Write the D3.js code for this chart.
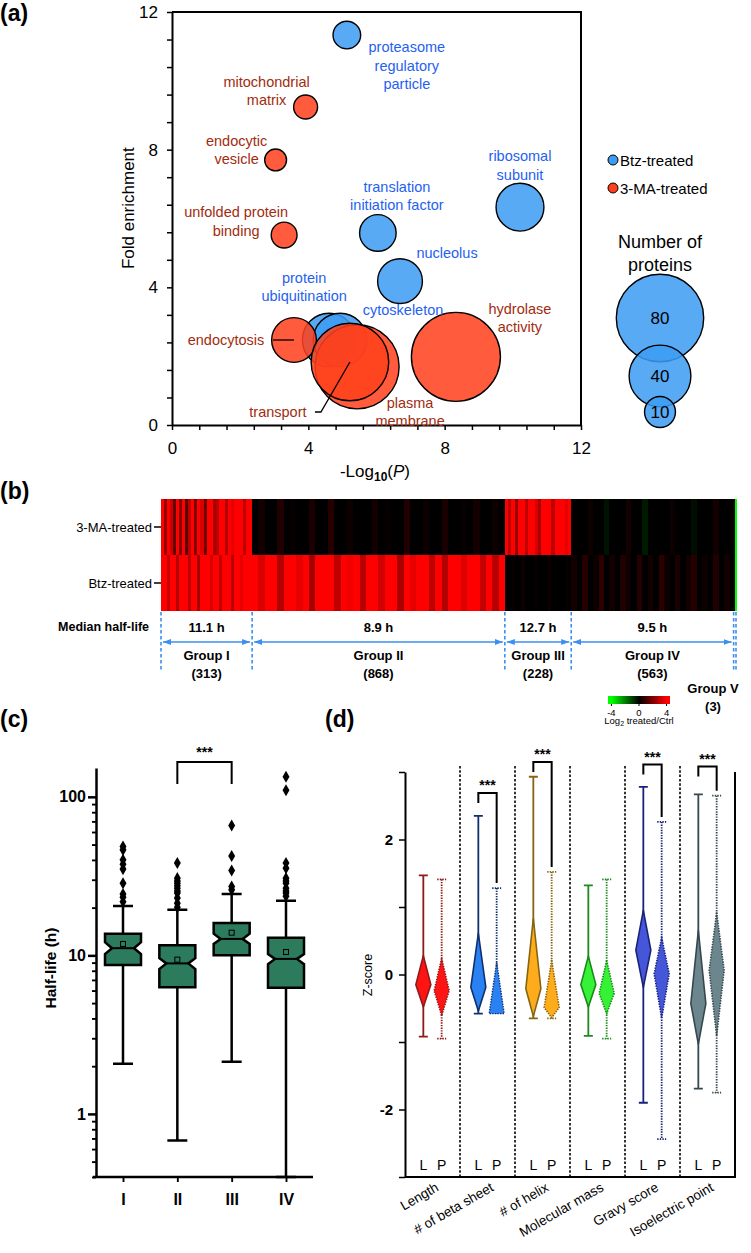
<!DOCTYPE html>
<html>
<head>
<meta charset="utf-8">
<script src="https://cdn.jsdelivr.net/npm/d3@7"></script>
<style>
body { margin: 0; background: #fff; }
svg { display: block; font-family: "Liberation Sans", Arial, Helvetica, sans-serif; }
</style>
</head>
<body>
<script>
// ---------- data: panel (a) GO terms ----------
const termNames = ["proteasome regulatory particle", "ribosomal subunit", "translation initiation factor",
  "nucleolus", "protein ubiquitination", "cytoskeleton", "mitochondrial matrix", "endocytic vesicle",
  "unfolded protein binding", "endocytosis", "hydrolase activity", "plasma membrane", "transport"];
const termGroup = ["Btz", "Btz", "Btz", "Btz", "Btz", "Btz", "3-MA", "3-MA", "3-MA", "3-MA", "3-MA", "3-MA", "3-MA"];
const termLogP = [5.13, 10.21, 6.04, 6.69, 4.61, 4.93, 3.92, 3.04, 3.29, 3.58, 8.33, 5.43, 5.22];
const termFold = [11.33, 6.33, 5.58, 4.18, 2.47, 2.47, 9.24, 7.70, 5.52, 2.47, 1.98, 1.69, 1.83];
const termCount = [8, 24, 14, 21, 30, 30, 6, 5, 7, 21, 83, 74, 63];
const legendCounts = [80, 40, 10];

// ---------- data: panel (b) heatmap ----------
const hmGroups = ["Group I", "Group II", "Group III", "Group IV", "Group V"];
const hmCounts = [313, 868, 228, 563, 3];
const hmMedian = ["11.1 h", "8.9 h", "12.7 h", "9.5 h"];
const hmRows = ["3-MA-treated", "Btz-treated"];
const hm3MA = [
  [4,2.4,4,3.2,1.6,4,2.2,4,1.4,3,4,2,4,3.4,1.8,4,4,2.6,3,4,4,2.8,4,3.6,4,4,4,3,4,4],
  [0,0.3,0,0,0.5,0,0.1,0,0,0.4,0,0,0.6,0,0,0.2,0,0,0,0.3,0,0.1,0,0,0.5,0,0,0.2,0,0,0.4,0,0,0.1,0,0.3,0,0,0.2,0],
  [4,3,4,2.4,4,4,3,4,4,3.4,2.6,4,4,4,3,4,4,4,3.6,4],
  [0,0,0,0.2,0,0,-0.3,0,0,0,0.3,0,0,-0.4,0,0,0,0,0.2,0,0,0,-0.2,0,0,0,0.3,0,0,0.1],
  [-4]
];
const hmBtz = [
  [4,4,3.2,4,4,2.8,4,4,4,3,4,4,2.6,4,4,4,3.4,4,4,3,4,4,4,2.9,4,4,3.6,4,4,4],
  [4,3.4,4,4,2.8,4,4,3.6,4,2.6,4,4,4,3,4,3.8,4,2.9,4,4,3.3,4,4,2.7,4,3.6,4,4,3,4,2.8,4,4,3.5,4,4,3.1,4,2.9,4],
  [0,0,0.1,0,0,0.2,0,0,0,0.1,0,0,0,0.2,0,0,0,0,0.1,0],
  [0.3,0,0.6,0,0.2,0.7,0,0.3,0,0.5,0.2,0,0.6,0,0.3,0,0.7,0.2,0,0.4,0,0.3,0.6,0,0.2,0,0.5,0,0.3,0],
  [-4]
];
const cbTicks = [-4, 0, 4];

// ---------- data: panel (c) half-life boxes ----------
const hlGroups = ["I", "II", "III", "IV"];
const hlQ1 = [8.7, 6.3, 10.0, 6.24];
const hlMedian = [11.1, 8.9, 12.7, 9.5];
const hlQ3 = [13.7, 11.6, 16.0, 12.9];
const hlNotchLo = [10.2, 8.2, 11.8, 8.8];
const hlNotchHi = [12.1, 9.6, 13.7, 10.2];
const hlMean = [11.8, 9.4, 13.9, 10.5];
const hlLow = [2.07, 0.68, 2.13, 0.40];
const hlHigh = [20.5, 19.4, 24.4, 22.1];
const hlOutliers = [
  [48.6, 46.3, 40.1, 37.6, 35.0, 28.5, 24.4, 23.3, 21.8],
  [38.2, 30.7, 29.5, 28.5, 27.5, 26.5, 25.5, 24.7, 23.0, 21.3, 20.1],
  [65.9, 42.4, 34.3, 27.2, 25.9],
  [134, 110, 38.2, 35.5, 30.7, 29.5, 28.5, 26.5, 25.5, 24.7, 23.6]
];
const hlTicks = [0.4,0.5,0.6,0.7,0.8,0.9,1,2,3,4,5,6,7,8,9,10,20,30,40,50,60,70,80,90,100];

// ---------- data: panel (d) z-scores ----------
const propNames = ["Length", "# of beta sheet", "# of helix", "Molecular mass", "Gravy score", "Isoelectric point"];
const lMax    = [1.47, 2.35, 2.93, 1.32, 2.78, 2.67];
const lTop    = [0.28, 0.61, 0.83, 0.27, 0.95, 0.65];
const lWide   = [-0.15, -0.19, -0.21, -0.15, 0.36, -0.43];
const lBottom = [-0.48, -0.54, -0.62, -0.48, -0.19, -1.03];
const lMin    = [-0.92, -0.58, -0.65, -0.91, -1.90, -1.69];
const pMax    = [1.41, 1.28, 1.52, 1.41, 2.26, 2.65];
const pTop    = [0.24, 0.18, 0.21, 0.21, 0.55, 0.92];
const pWide   = [-0.24, -0.58, -0.49, -0.28, 0.01, 0.06];
const pBottom = [-0.61, -0.58, -0.64, -0.58, -0.65, -0.91];
const pMin    = [-0.95, -0.58, -0.65, -0.95, -2.44, -1.75];
const bracketTop = [null, 2.69, 3.15, null, 3.11, 3.08];

// ---------- styles ----------
const BLUE = "#3d9cf2", RED = "#ff401c", BLUE_TXT = "#1f62f0", RED_TXT = "#a12c0e";
const ARROW = "#3a8ff0";
const BOX = "#2b7b5c";
const propFill = ["#ff1414", "#2a82f2", "#ffac1c", "#36f236", "#4656d8", "#6b868c"];
const propStroke = ["#8f1a1a", "#10306e", "#86650f", "#1c8a1c", "#1a237a", "#37474f"];

const svg = d3.select("body").append("svg").attr("width", 751).attr("height", 1253);
const defs = svg.append("defs");

function panelLabel(txt, x, y) {
  svg.append("text").attr("x", x).attr("y", y).attr("font-size", 23).attr("font-weight", "bold").text(txt);
}
function styleAxis(g, size, bold, width) {
  g.select(".domain").attr("stroke-width", width);
  g.selectAll(".tick line").attr("stroke-width", width * 0.75);
  g.selectAll(".tick text").attr("font-size", size).attr("font-weight", bold ? "bold" : "normal")
    .attr("fill", "#000").attr("font-family", "Liberation Sans, Arial, sans-serif");
}

// ================= (a) =================
panelLabel("(a)", 0, 21);
const xA = d3.scaleLinear([0, 12], [172, 581]);
const yA = d3.scaleLinear([0, 12], [425, 12]);
const rA = d3.scaleSqrt([0, 80], [0, 43.7]);
const gA = svg.append("g");
const ticksA = d3.range(0, 12.01, 0.8);
const majorA = d => Math.abs(d / 4 - Math.round(d / 4)) < 1e-6;

gA.append("g").attr("transform", "translate(172,0)")
  .call(d3.axisLeft(yA).tickValues(ticksA).tickFormat(d => majorA(d) ? Math.round(d) : "").tickSize(5).tickSizeOuter(0).tickPadding(9))
  .call(g => styleAxis(g, 17, false, 2));
gA.append("g").attr("transform", "translate(0,425)")
  .call(d3.axisBottom(xA).tickValues(ticksA).tickFormat(d => majorA(d) ? Math.round(d) : "").tickSize(5).tickSizeOuter(0).tickPadding(12))
  .call(g => styleAxis(g, 17, false, 2));
gA.append("path").attr("d", `M${xA(0)},${yA(12)}H${xA(12)}V${yA(0)}`).attr("fill", "none").attr("stroke", "#000").attr("stroke-width", 2);

gA.append("text").attr("transform", `translate(128,${yA(6.3)}) rotate(-90)`).attr("text-anchor", "middle")
  .attr("dominant-baseline", "central").attr("font-size", 17).text("Fold enrichment");
const xl = gA.append("text").attr("x", 375).attr("y", 477).attr("text-anchor", "middle").attr("font-size", 17);
xl.append("tspan").text("-Log");
xl.append("tspan").attr("font-size", 12).attr("dy", 4).attr("font-weight", "bold").text("10");
xl.append("tspan").attr("dy", -4).text("(");
xl.append("tspan").attr("font-style", "italic").text("P");
xl.append("tspan").text(")");

// bubbles: Btz first, then 3-MA on top
const drawOrder = [0, 1, 2, 3, 4, 5, 6, 7, 8, 9, 10, 11, 12];
gA.selectAll("circle.term").data(drawOrder).join("circle").attr("class", "term")
  .attr("cx", i => xA(termLogP[i])).attr("cy", i => yA(termFold[i])).attr("r", i => rA(termCount[i]))
  .attr("fill", i => termGroup[i] === "Btz" ? BLUE : RED).attr("fill-opacity", 0.86)
  .attr("stroke", "#000").attr("stroke-width", 1.4);

// label layout (px offsets from bubble centre)
const labelLayout = [
  { lines: ["proteasome", "regulatory", "particle"], dx: 60, dy: 12 },
  { lines: ["ribosomal", "subunit"], dx: 0, dy: -51 },
  { lines: ["translation", "initiation factor"], dx: 19, dy: -46 },
  { lines: ["nucleolus"], dx: 47, dy: -28 },
  { lines: ["protein", "ubiquitination"], dx: -25, dy: -62 },
  { lines: ["cytoskeleton"], dx: 63, dy: -30 },
  { lines: ["mitochondrial", "matrix"], dx: -39, dy: -25 },
  { lines: ["endocytic", "vesicle"], dx: -39, dy: -19 },
  { lines: ["unfolded protein", "binding"], dx: -48, dy: -23 },
  { lines: ["endocytosis"], dx: -68, dy: 0 },
  { lines: ["hydrolase", "activity"], dx: 64, dy: -48 },
  { lines: ["plasma", "membrane"], dx: 53, dy: 36 },
  { lines: ["transport"], dx: -72, dy: 50 }
];
labelLayout.forEach((L, i) => {
  const cx = xA(termLogP[i]), cy = yA(termFold[i]);
  const t = gA.append("text").attr("text-anchor", "middle").attr("font-size", 14.5)
    .attr("fill", termGroup[i] === "Btz" ? BLUE_TXT : RED_TXT);
  L.lines.forEach((s, k) => t.append("tspan").attr("x", cx + L.dx).attr("y", cy + L.dy + k * 18.5)
    .attr("dominant-baseline", "central").text(s));
});
// leader lines
{
  const e = 9, tr = 12;
  const ex = xA(termLogP[e]), ey = yA(termFold[e]);
  gA.append("line").attr("x1", ex - 21).attr("x2", ex).attr("y1", ey).attr("y2", ey).attr("stroke", "#000").attr("stroke-width", 1.3);
  const tx = xA(termLogP[tr]), ty = yA(termFold[tr]);
  gA.append("path").attr("d", `M${tx - 35},${ty + 50}H${tx - 29}L${tx},${ty}`).attr("fill", "none").attr("stroke", "#000").attr("stroke-width", 1.3);
}

// legend
[["Btz-treated", BLUE, 160], ["3-MA-treated", RED, 188]].forEach(([name, c, y]) => {
  gA.append("circle").attr("cx", 613).attr("cy", y).attr("r", 5).attr("fill", c).attr("stroke", "#000").attr("stroke-width", 1);
  gA.append("text").attr("x", 620).attr("y", y).attr("dominant-baseline", "central").attr("font-size", 15).text(name);
});
gA.append("text").attr("x", 660).attr("y", 242).attr("text-anchor", "middle").attr("dominant-baseline", "central").attr("font-size", 18).text("Number of");
gA.append("text").attr("x", 660).attr("y", 265).attr("text-anchor", "middle").attr("dominant-baseline", "central").attr("font-size", 18).text("proteins");
const legendY = [318, 376, 412];
legendCounts.forEach((n, k) => {
  gA.append("circle").attr("cx", 660).attr("cy", legendY[k]).attr("r", rA(n)).attr("fill", BLUE).attr("fill-opacity", 0.86)
    .attr("stroke", "#000").attr("stroke-width", 1.4);
});
legendCounts.forEach((n, k) => {
  gA.append("text").attr("x", 660).attr("y", legendY[k]).attr("text-anchor", "middle").attr("dominant-baseline", "central")
    .attr("font-size", 17).text(n);
});

// ================= (b) =================
panelLabel("(b)", 0, 499);
const total = d3.sum(hmCounts);
const xB = d3.scaleLinear([0, total], [161, 736]);
const yB = d3.scaleBand(hmRows, [499, 611]);
const heatColor = d3.scaleLinear([-4, 0, 4], ["#00ff00", "#000000", "#ff0000"]).clamp(true);
const starts = d3.cumsum([0, ...hmCounts]);
const gB = svg.append("g");
[hm3MA, hmBtz].forEach((rowData, r) => {
  rowData.forEach((vals, gi) => {
    const w = hmCounts[gi] / vals.length;
    vals.forEach((v, k) => {
      const x0 = xB(starts[gi] + k * w), x1 = xB(starts[gi] + (k + 1) * w);
      gB.append("rect").attr("x", x0).attr("y", yB(hmRows[r])).attr("width", x1 - x0 + 0.6)
        .attr("height", yB.bandwidth()).attr("fill", heatColor(v)).attr("shape-rendering", "crispEdges");
    });
  });
});
hmRows.forEach(r => {
  const cy = yB(r) + yB.bandwidth() / 2;
  gB.append("line").attr("x1", 154).attr("x2", 161).attr("y1", cy).attr("y2", cy).attr("stroke", "#000").attr("stroke-width", 1.5);
  gB.append("text").attr("x", 152).attr("y", cy).attr("text-anchor", "end").attr("dominant-baseline", "central").attr("font-size", 13).text(r);
});

// group boundaries + arrows
defs.append("marker").attr("id", "arr").attr("viewBox", "0 0 8 6").attr("refX", 8).attr("refY", 3)
  .attr("markerWidth", 8).attr("markerHeight", 6).attr("markerUnits", "userSpaceOnUse").attr("orient", "auto-start-reverse")
  .append("path").attr("d", "M0,0L8,3L0,6Z").attr("fill", ARROW);
const bounds = starts.map(s => xB(s));
bounds.forEach((bx, k) => {
  const x = k === bounds.length - 2 ? bx - 1.5 : bx;
  gB.append("line").attr("x1", x).attr("x2", x).attr("y1", 612).attr("y2", 670)
    .attr("stroke", ARROW).attr("stroke-width", 1.6).attr("stroke-dasharray", "3.5,2.5");
});
hmMedian.forEach((m, gi) => {
  const a = bounds[gi], b = gi === 3 ? bounds[4] - 1.5 : bounds[gi + 1];
  const cx = (a + b) / 2;
  gB.append("line").attr("x1", a + 2).attr("x2", b - 2).attr("y1", 642).attr("y2", 642)
    .attr("stroke", ARROW).attr("stroke-width", 1.4).attr("marker-start", "url(#arr)").attr("marker-end", "url(#arr)");
  gB.append("text").attr("x", cx).attr("y", 627).attr("text-anchor", "middle").attr("dominant-baseline", "central")
    .attr("font-size", 13).attr("font-weight", "bold").text(m);
  gB.append("text").attr("x", cx).attr("y", 655).attr("text-anchor", "middle").attr("dominant-baseline", "central")
    .attr("font-size", 13).attr("font-weight", "bold").text(hmGroups[gi]);
  gB.append("text").attr("x", cx).attr("y", 673).attr("text-anchor", "middle").attr("dominant-baseline", "central")
    .attr("font-size", 13).attr("font-weight", "bold").text(`(${hmCounts[gi]})`);
});
gB.append("text").attr("x", 713).attr("y", 688).attr("text-anchor", "middle").attr("dominant-baseline", "central")
  .attr("font-size", 13).attr("font-weight", "bold").text(hmGroups[4]);
gB.append("text").attr("x", 713).attr("y", 706).attr("text-anchor", "middle").attr("dominant-baseline", "central")
  .attr("font-size", 13).attr("font-weight", "bold").text(`(${hmCounts[4]})`);
gB.append("text").attr("x", 149).attr("y", 627).attr("text-anchor", "end").attr("dominant-baseline", "central")
  .attr("font-size", 12.5).attr("font-weight", "bold").text("Median half-life");

// colour bar
const xCb = d3.scaleLinear([-4.5, 4.5], [608, 670]);
const grad = defs.append("linearGradient").attr("id", "cb");
[-4.5, -4, 0, 4, 4.5].forEach(v => grad.append("stop").attr("offset", (xCb(v) - 608) / 62).attr("stop-color", heatColor(v)));
gB.append("rect").attr("x", 608).attr("y", 696).attr("width", 62).attr("height", 8).attr("fill", "url(#cb)");
cbTicks.forEach(v => {
  gB.append("line").attr("x1", xCb(v)).attr("x2", xCb(v)).attr("y1", 704).attr("y2", 706).attr("stroke", "#000");
  gB.append("text").attr("x", xCb(v)).attr("y", 712).attr("text-anchor", "middle").attr("dominant-baseline", "central")
    .attr("font-size", 9.5).text(v);
});
const cbl = gB.append("text").attr("x", 639).attr("y", 724).attr("text-anchor", "middle").attr("font-size", 9.5);
cbl.append("tspan").text("Log");
cbl.append("tspan").attr("font-size", 7).attr("dy", 2).text("2");
cbl.append("tspan").attr("dy", -2).text(" treated/Ctrl");

// ================= (c) =================
panelLabel("(c)", 0, 727);
const yC = d3.scaleLog([0.4, 152], [1177, 768]);
const xC = d3.scalePoint(hlGroups, [123, 286]);
const gC = svg.append("g");
const majorC = d => [1, 10, 100].includes(d);
gC.append("g").attr("transform", "translate(96,0)")
  .call(d3.axisLeft(yC).tickValues(hlTicks).tickFormat(d => majorC(d) ? d : "").tickSize(4).tickSizeOuter(0).tickPadding(6))
  .call(g => {
    styleAxis(g, 16, true, 2.5);
    g.selectAll(".tick line").filter(d => majorC(d)).attr("x2", -8).attr("stroke-width", 2.5);
    g.selectAll(".tick text").filter(d => majorC(d)).attr("x", -10);
  });
gC.append("g").attr("transform", "translate(0,1177)")
  .call(d3.axisBottom(xC).tickSize(5).tickSizeOuter(0).tickPadding(12))
  .call(g => { styleAxis(g, 16, true, 2.5); g.select(".domain").attr("d", "M93,0H313"); });

gC.append("text").attr("transform", `translate(50,968) rotate(-90)`).attr("text-anchor", "middle").attr("dominant-baseline", "central")
  .attr("font-size", 15.5).attr("font-weight", "bold").text("Half-life (h)");

const bw = 18, notchIn = 7, capW = 10;
hlGroups.forEach((g, i) => {
  const cx = xC(g);
  gC.append("path").attr("d",
    `M${cx},${yC(hlQ3[i])}V${yC(hlHigh[i])}M${cx - capW},${yC(hlHigh[i])}H${cx + capW}` +
    `M${cx},${yC(hlQ1[i])}V${yC(hlLow[i])}M${cx - capW},${yC(hlLow[i])}H${cx + capW}`)
    .attr("stroke", "#000").attr("stroke-width", 2.5).attr("fill", "none");
  const l = cx - bw, r = cx + bw;
  const nh = yC(hlNotchHi[i]), nl = yC(hlNotchLo[i]), md = yC(hlMedian[i]);
  gC.append("path").attr("d",
    `M${l},${yC(hlQ3[i])}H${r}V${nh}L${r - notchIn},${md}L${r},${nl}V${yC(hlQ1[i])}H${l}V${nl}L${l + notchIn},${md}L${l},${nh}Z`)
    .attr("fill", BOX).attr("stroke", "#000").attr("stroke-width", 2.5).attr("stroke-linejoin", "miter");
  gC.append("line").attr("x1", l + notchIn).attr("x2", r - notchIn).attr("y1", md).attr("y2", md).attr("stroke", "#000").attr("stroke-width", 2);
  gC.append("rect").attr("x", cx - 2.5).attr("y", yC(hlMean[i]) - 2.5).attr("width", 5).attr("height", 5)
    .attr("fill", "none").attr("stroke", "#000").attr("stroke-width", 1);
  gC.selectAll(null).data(hlOutliers[i]).join("path")
    .attr("transform", v => `translate(${cx},${yC(v)})`).attr("d", d3.symbol(d3.symbolDiamond, 42)).attr("fill", "#000");
});
{
  const a = xC("II"), b = xC("III");
  gC.append("path").attr("d", `M${a},784V762H${b}V784`).attr("fill", "none").attr("stroke", "#000").attr("stroke-width", 2);
  gC.append("text").attr("x", (a + b) / 2).attr("y", 757).attr("text-anchor", "middle").attr("font-size", 14).attr("font-weight", "bold").text("***");
}

// ================= (d) =================
panelLabel("(d)", 325, 727);
const yD = d3.scaleLinear([-3, 3], [1177, 772]);
const xD = d3.scaleBand(propNames, [405, 735]);
const gD = svg.append("g");
gD.append("g").attr("transform", "translate(405,0)")
  .call(d3.axisLeft(yD).tickValues([-3, -2, -1, 0, 1, 2, 3]).tickFormat(d => [-2, 0, 2].includes(d) ? d : "").tickSize(6).tickSizeOuter(0).tickPadding(6))
  .call(g => styleAxis(g, 15, true, 2));
gD.append("path").attr("d", `M405,1177H735V772`).attr("fill", "none").attr("stroke", "#000").attr("stroke-width", 2);
propNames.slice(1).forEach(p => {
  gD.append("line").attr("x1", xD(p)).attr("x2", xD(p)).attr("y1", 766).attr("y2", 1177)
    .attr("stroke", "#000").attr("stroke-width", 1.6).attr("stroke-dasharray", "2.5,1.8");
});
gD.append("text").attr("transform", `translate(368,975) rotate(-90)`).attr("text-anchor", "middle").attr("dominant-baseline", "central")
  .attr("font-size", 12.5).text("Z-score");

const hw = 7.5, capD = 4.5;
function kite(cx, mx, tp, wd, bt, mn, fill, stroke, dotted) {
  const g = gD.append("g");
  const dash = dotted ? "1.4,1.2" : null;
  g.append("path").attr("d", `M${cx},${yD(mx)}V${yD(mn)}M${cx - capD},${yD(mx)}H${cx + capD}M${cx - capD},${yD(mn)}H${cx + capD}`)
    .attr("stroke", stroke).attr("stroke-width", 1.8).attr("fill", "none").attr("stroke-dasharray", dash);
  g.append("path").attr("d", `M${cx},${yD(tp)}L${cx + hw},${yD(wd)}L${cx},${yD(bt)}L${cx - hw},${yD(wd)}Z`)
    .attr("fill", fill).attr("stroke", stroke).attr("stroke-width", 1.6).attr("stroke-linejoin", "round")
    .attr("stroke-dasharray", dash);
}
function triangle(cx, mx, tp, bt, mn, fill, stroke) {
  const g = gD.append("g");
  g.append("path").attr("d", `M${cx},${yD(mx)}V${yD(mn)}M${cx - capD},${yD(mx)}H${cx + capD}`)
    .attr("stroke", stroke).attr("stroke-width", 1.8).attr("fill", "none").attr("stroke-dasharray", "1.4,1.2");
  g.append("path").attr("d", `M${cx},${yD(tp)}L${cx + hw},${yD(bt)}H${cx - hw}Z`)
    .attr("fill", fill).attr("stroke", stroke).attr("stroke-width", 1.4).attr("stroke-dasharray", "1.4,1.2");
}
propNames.forEach((p, i) => {
  const x0 = xD(p), w = xD.bandwidth();
  const xl = x0 + w / 3, xp = x0 + 2 * w / 3;
  kite(xl, lMax[i], lTop[i], lWide[i], lBottom[i], lMin[i], propFill[i], propStroke[i], false);
  if (pWide[i] <= pBottom[i]) triangle(xp, pMax[i], pTop[i], pBottom[i], pMin[i], propFill[i], propStroke[i]);
  else kite(xp, pMax[i], pTop[i], pWide[i], pBottom[i], pMin[i], propFill[i], propStroke[i], true);
  gD.append("text").attr("x", xl).attr("y", 1165).attr("text-anchor", "middle").attr("dominant-baseline", "central").attr("font-size", 14).text("L");
  gD.append("text").attr("x", xp).attr("y", 1165).attr("text-anchor", "middle").attr("dominant-baseline", "central").attr("font-size", 14).text("P");
  gD.append("text").attr("transform", `translate(${x0 + w / 2 + 7},1190) rotate(-30)`).attr("text-anchor", "end")
    .attr("font-size", 13.5).text(p);
  if (bracketTop[i] !== null) {
    const top = yD(bracketTop[i]);
    gD.append("path").attr("d", `M${xl},${top + 10}V${top}H${xp}V${yD(pMax[i]) - 5}`)
      .attr("fill", "none").attr("stroke", "#000").attr("stroke-width", 2);
    gD.append("text").attr("x", (xl + xp) / 2).attr("y", top - 3).attr("text-anchor", "middle")
      .attr("font-size", 14).attr("font-weight", "bold").text("***");
  }
});
</script>
</body>
</html>
